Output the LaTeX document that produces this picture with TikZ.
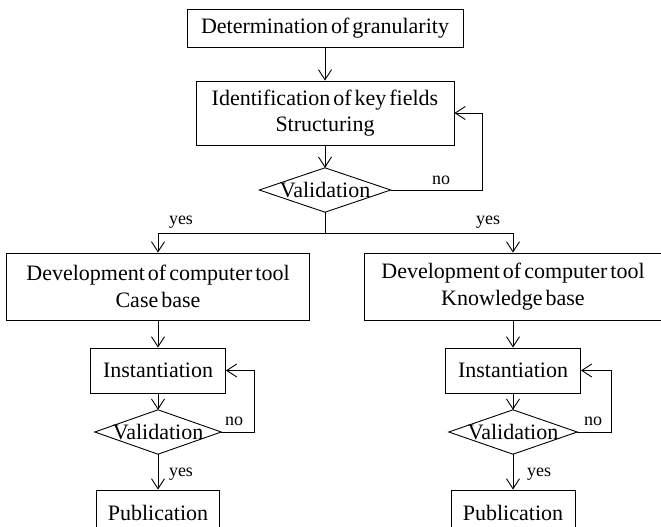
\documentclass[tikz,border=0pt]{standalone}
\usepackage{fontspec}
\setmainfont{Liberation Serif}[WordSpace=0.55]
\usetikzlibrary{arrows.meta}
\begin{document}
\begin{tikzpicture}[x=1pt,y=-1pt,
  lw/.style={line width=0.9pt},
  box/.style={draw,lw,rectangle,inner sep=0pt,align=center,font=\fontsize{22}{26.5}\selectfont},
  dia/.style={rectangle,inner sep=0pt,font=\fontsize{22}{26.5}\selectfont},
  arr/.style={lw,-{Straight Barb[length=10pt,width=13pt]}},
  lab/.style={inner sep=0pt,font=\fontsize{18}{20}\selectfont}]
\clip (0,0) rectangle (661,527);
% nodes
\node[box,minimum width=276pt,minimum height=38pt] (b1) at (325,28) {Determination of granularity};
\node[box,minimum width=258pt,minimum height=64pt] (b2) at (325,113) {Identification of key fields\\Structuring};
\node[dia,minimum width=131pt,minimum height=44pt] (d1) at (325,190) {Validation};
\draw[lw] (d1.west)--(d1.north)--(d1.east)--(d1.south)--cycle;
\coordinate (split) at (325,233);
\node[box,minimum width=303pt,minimum height=67pt] (b3) at (158,286.5) {Development of computer tool\\Case base};
\node[box,minimum width=297pt,minimum height=67pt] (b4) at (513,286.5) {Development of computer tool\\Knowledge base};
\node[box,minimum width=135pt,minimum height=45pt] (i1) at (158,370.5) {Instantiation};
\node[box,minimum width=135pt,minimum height=45pt] (i2) at (513,370.5) {Instantiation};
\node[dia,minimum width=126pt,minimum height=44pt] (d2) at (158,432) {Validation};
\draw[lw] (d2.west)--(d2.north)--(d2.east)--(d2.south)--cycle;
\node[dia,minimum width=128pt,minimum height=44pt] (d3) at (513,432) {Validation};
\draw[lw] (d3.west)--(d3.north)--(d3.east)--(d3.south)--cycle;
\node[box,minimum width=123pt,minimum height=45pt] (p1) at (158,512.5) {Publication};
\node[box,minimum width=124pt,minimum height=45pt] (p2) at (513,512.5) {Publication};
% connectors
\draw[arr] (b1.south) -- (b2.north);
\draw[arr] (b2.south) -- (d1.north);
\draw[arr] (d1.east) -- ++(92,0) |- (b2.east);
\draw[lw] (d1.south) -- (split);
\draw[arr] (split) -| (b3.north);
\draw[arr] (split) -| (b4.north);
\draw[arr] (b3.south) -- (i1.north);
\draw[arr] (b4.south) -- (i2.north);
\draw[arr] (i1.south) -- (d2.north);
\draw[arr] (i2.south) -- (d3.north);
\draw[arr] (d2.east) -- ++(33,0) |- (i1.east);
\draw[arr] (d3.east) -- ++(34,0) |- (i2.east);
\draw[arr] (d2.south) -- (p1.north);
\draw[arr] (d3.south) -- (p2.north);
% labels
\node[lab] (l1) at (441,180) {no};
\node[lab] (l2) at (181,222) {yes};
\node[lab] (l3) at (488,222) {yes};
\node[lab] (l4) at (234,421) {no};
\node[lab] (l5) at (593,421) {no};
\node[lab] (l6) at (181,474) {yes};
\node[lab] (l7) at (539,474) {yes};
\end{tikzpicture}
\end{document}
